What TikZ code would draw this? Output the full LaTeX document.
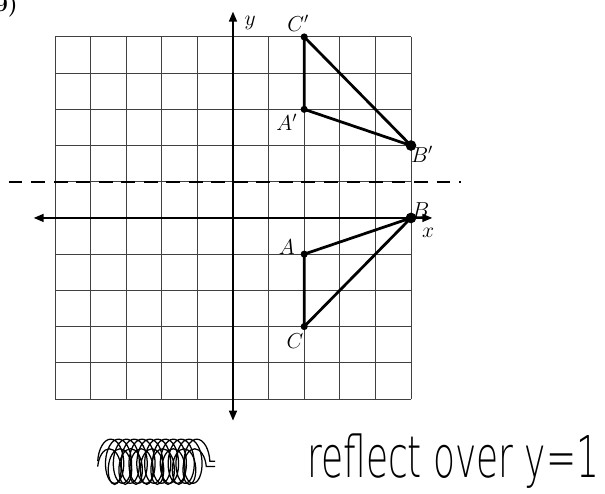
\documentclass[tikz,border=0pt]{standalone}
\usepackage{fontspec}
\usepackage{tikz}
\usetikzlibrary{arrows.meta,decorations.pathmorphing}
\newfontfamily\handfont{DejaVu Sans ExtraLight}
\tikzset{
  gridline/.style={draw=black!75,line width=0.7pt},
  axis/.style={{Triangle[length=2.8mm,width=2.2mm]}-{Triangle[length=2.8mm,width=2.2mm]},draw=black,line width=1.5pt},
  tri/.style={draw=black,line width=2.2pt,line join=round},
  pt/.style={circle,fill=black,inner sep=0pt,minimum size=2mm},
  bigpt/.style={pt,minimum size=3mm},
  lbl/.style={font=\fontsize{17}{20}\selectfont,inner sep=0pt},
  mirror/.style={draw=black,line width=1.6pt,dash pattern=on 11pt off 7pt},
  hand/.style={font=\handfont\fontsize{46}{50}\selectfont,inner sep=0pt},
  scribble/.style={draw=black,line width=1pt,decorate,decoration={coil,amplitude=0.62cm,segment length=0.22cm}}
}

\begin{document}
\begin{tikzpicture}[x={(1cm,0)},y={(0,1.017cm)}]
  \useasboundingbox (-6.545,-7.60) rectangle (10.45,6.02);
  % grid
  \foreach \k in {-5,...,5} {
    \draw[gridline] (\k,-5) -- (\k,5);
    \draw[gridline] (-5,\k) -- (5,\k);
  }
  % axes
  \coordinate (xl) at (-5.6,0);
  \coordinate (xr) at (5.6,0);
  \coordinate (yt) at (0,5.7);
  \coordinate (yb) at (0,-5.6);
  \draw[axis] (xl) -- (xr);
  \draw[axis] (yb) -- (yt);
  \node[lbl] (xlab) at (5.48,-0.41) {$x$};
  \node[lbl] (ylab) at (0.48,5.38) {$y$};
  % line of reflection y=1
  \coordinate (ml) at (-6.3,1);
  \coordinate (mr) at (6.4,1);
  \draw[mirror] (ml) -- (mr);
  % original triangle
  \node[pt] (A) at (2,-1) {};
  \node[bigpt] (B) at (5,0) {};
  \node[pt] (C) at (2,-3) {};
  \draw[tri] (A.center) -- (B.center) -- (C.center) -- cycle;
  % image triangle
  \node[pt] (A') at (2,3) {};
  \node[bigpt] (B') at (5,2) {};
  \node[pt] (C') at (2,5) {};
  \draw[tri] (A'.center) -- (B'.center) -- (C'.center) -- cycle;
  % vertex labels
  \node[lbl] (la) at (1.51,-0.8) {$A$};
  \node[lbl] (lb) at (5.27,0.22) {$B$};
  \node[lbl] (lc) at (1.74,-3.4) {$C$};
  \node[lbl] (la') at (1.51,2.64) {$A'$};
  \node[lbl] (lb') at (5.31,1.76) {$B'$};
  \node[lbl] (lc') at (1.83,5.38) {$C'$};
  % problem number, cut at the top
  \node[lbl,anchor=base,font=\bfseries\fontsize{18}{20}\selectfont] (num) at (-6.36,5.70) {9)};
  % crossed-out word and the note
  \coordinate (s1) at (-3.8,-6.72);
  \coordinate (s2) at (-0.5,-6.72);
  \draw[scribble] (s1) -- (s2);
  \draw[scribble,decoration={coil,amplitude=0.5cm,segment length=0.3cm}] ([yshift=-1.5mm]s1) -- ([yshift=-1.5mm]s2);
  \node[hand,anchor=base west] (note) at (2.08,-7.18) {\resizebox{8.2cm}{\height}{reflect over y=1}};
\end{tikzpicture}
\end{document}
